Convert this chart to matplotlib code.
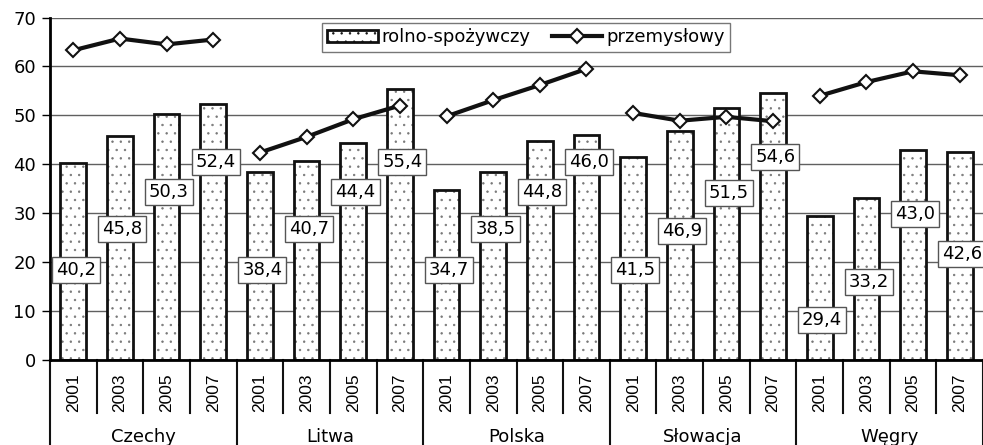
import numpy as np
import matplotlib.pyplot as plt

plt.rcParams['font.family'] = ['DejaVu Sans']
plt.rcParams['hatch.linewidth'] = 0.5

countries = ['Czechy', 'Litwa', 'Polska', 'Słowacja', 'Węgry']
years = ['2001', '2003', '2005', '2007']

rolno = [40.2, 45.8, 50.3, 52.4,
         38.4, 40.7, 44.4, 55.4,
         34.7, 38.5, 44.8, 46.0,
         41.5, 46.9, 51.5, 54.6,
         29.4, 33.2, 43.0, 42.6]
przem = [63.3, 65.7, 64.5, 65.5,
         42.4, 45.6, 49.2, 52.0,
         49.8, 53.1, 56.2, 59.5,
         50.5, 48.9, 49.7, 48.8,
         54.0, 56.8, 59.0, 58.2]
# label heights as placed in the original chart
label_y = [18.4, 26.8, 34.4, 40.5,
           18.4, 26.8, 34.4, 40.5,
           18.4, 26.8, 34.4, 40.5,
           18.4, 26.4, 34.2, 41.5,
           8.2, 16.0, 29.9, 21.7]

fig = plt.figure(figsize=(9.83, 4.45), dpi=100)
ax = fig.add_axes([50 / 983, 85 / 445, 933 / 983, 342.5 / 445])

x = np.arange(len(rolno))
ax.set_ylim(0, 70)
ax.set_xlim(-0.5, len(rolno) - 0.5)
ax.set_yticks(range(0, 71, 10))
ax.yaxis.grid(True, color='#606060', lw=1)
ax.set_axisbelow(True)

# dotted fill first (grey dots), then the black outline on top
ax.bar(x, rolno, width=0.55, facecolor='white', edgecolor='#777777', lw=0,
       hatch='..', zorder=2)
bars = ax.bar(x, rolno, width=0.55, facecolor='none', edgecolor='#111111',
              lw=2, zorder=3, label='rolno-spożywczy')
bar_handle = plt.Rectangle((0, 0), 1, 1, facecolor='white', edgecolor='#111111',
                           lw=2, hatch='..')

for k in range(len(countries)):
    sl = slice(4 * k, 4 * k + 4)
    ln, = ax.plot(x[sl], przem[sl], color='#111111', lw=3, marker='D',
                  markersize=7.5, markerfacecolor='white', markeredgecolor='#111111',
                  markeredgewidth=1.5, zorder=4, label='przemysłowy')

for xi, v, ly in zip(x, rolno, label_y):
    ax.text(xi + 0.05, ly, f'{v:.1f}'.replace('.', ','), ha='center', va='center',
            fontsize=13, zorder=5,
            bbox=dict(boxstyle='square,pad=0.22', fc='white', ec='#555555', lw=1))

for s in ['top', 'right']:
    ax.spines[s].set_visible(False)
ax.spines['left'].set_linewidth(2)
ax.spines['bottom'].set_linewidth(2)
ax.spines['bottom'].set_zorder(6)
ax.tick_params(axis='y', labelsize=13, length=6, width=1, direction='out', pad=4)
ax.set_xticks([])

trans = ax.get_xaxis_transform()
for i, xi in enumerate(x):
    ax.text(xi, -0.096, years[i % 4], rotation=90, ha='center', va='center',
            fontsize=12.5, family='Liberation Sans', transform=trans)
for b in np.arange(-0.5, len(rolno), 1):
    low = -0.26 if (b + 0.5) % 4 == 0 else -0.155
    ax.plot([b, b], [0, low], transform=trans, color='#111111', lw=1.5, clip_on=False)
for k, c in enumerate(countries):
    ax.text(4 * k + 1.5, -0.225, c, ha='center', va='center', fontsize=13, transform=trans)

leg = ax.legend(handles=[bar_handle, ln], labels=['rolno-spożywczy', 'przemysłowy'],
                loc='upper center', bbox_to_anchor=(0.51, 0.984),
                ncol=2, fontsize=13, frameon=True, fancybox=False, handlelength=2.8,
                handletextpad=0.2, columnspacing=1.2, borderpad=0.3, borderaxespad=0)
leg.get_frame().set_edgecolor('#555555')
leg.get_frame().set_linewidth(1)

fig.savefig('out.png', dpi=100)
